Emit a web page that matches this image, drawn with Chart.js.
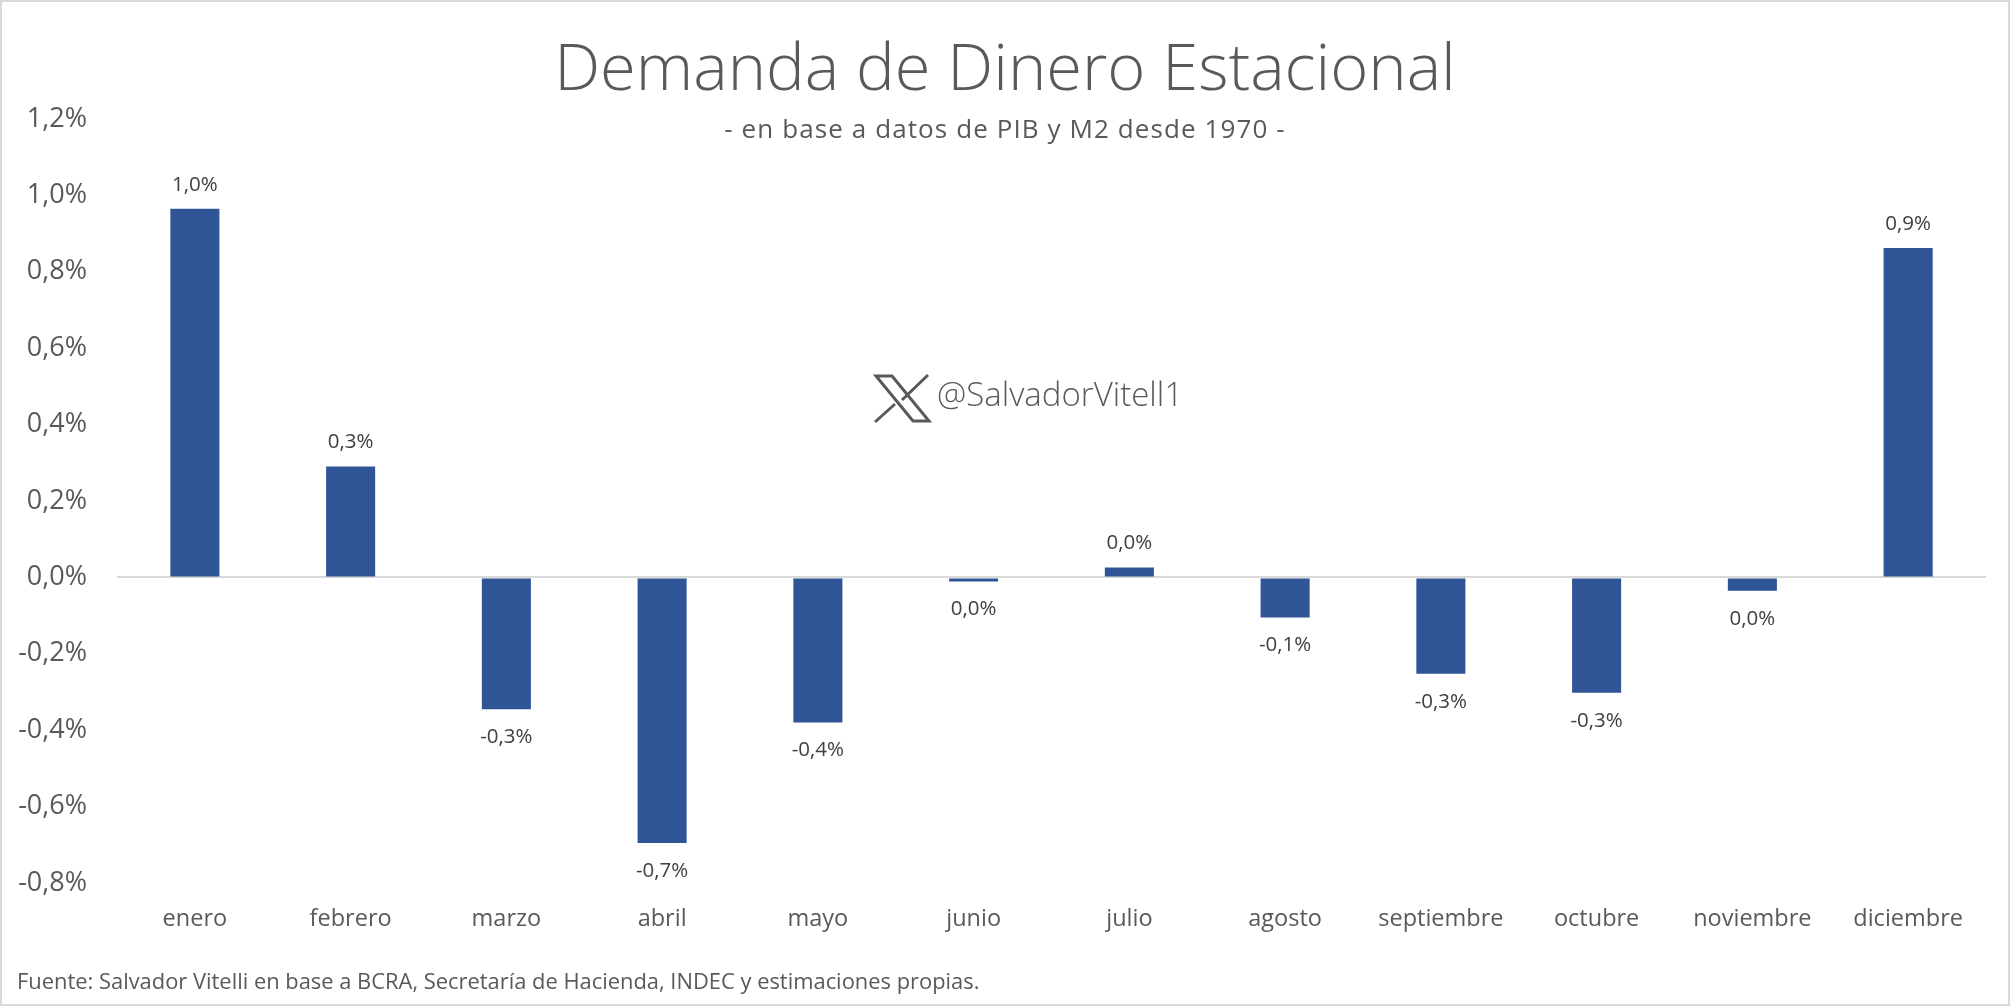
<!DOCTYPE html>
<html>
<head>
<meta charset="utf-8">
<script src="https://cdn.jsdelivr.net/npm/chart.js@4/dist/chart.umd.min.js"></script>
<style>
  html, body { margin: 0; padding: 0; background: #fff; }
  #wrap { position: relative; width: 2010px; height: 1006px; }
</style>
</head>
<body>
<div id="wrap"><canvas id="myChart" width="2010" height="1006"></canvas></div>
<script>
// Datos
const months = ['enero', 'febrero', 'marzo', 'abril', 'mayo', 'junio', 'julio', 'agosto', 'septiembre', 'octubre', 'noviembre', 'diciembre'];
const demand = [0.965, 0.29, -0.345, -0.695, -0.38, -0.011, 0.026, -0.105, -0.252, -0.302, -0.035, 0.862];
const barLabels = ['1,0%', '0,3%', '-0,3%', '-0,7%', '-0,4%', '0,0%', '0,0%', '-0,1%', '-0,3%', '-0,3%', '0,0%', '0,9%'];

const titleText = 'Demanda de Dinero Estacional';
const subtitleText = '- en base a datos de PIB y M2 desde 1970 -';
const handleText = '@SalvadorVitell1';
const sourceText = 'Fuente: Salvador Vitelli en base a BCRA, Secretaría de Hacienda, INDEC y estimaciones propias.';

const fontName = '"Open Sans", "Noto Sans", sans-serif';
const textGrey = '#595959';

// Titulos, etiquetas, logo y marco
const extras = {
  id: 'extras',
  afterDatasetsDraw(chart) {
    const ctx = chart.ctx;
    const bars = chart.getDatasetMeta(0).data;

    ctx.save();
    ctx.textBaseline = 'middle';

    // Etiquetas de las barras
    ctx.textAlign = 'center';
    ctx.fillStyle = '#404040';
    ctx.font = '20.5px ' + fontName;
    bars.forEach((bar, i) => {
      const offset = demand[i] >= 0 ? -24 : 28;
      ctx.fillText(barLabels[i], bar.x, bar.y + offset);
    });

    // Titulo
    ctx.fillStyle = textGrey;
    ctx.font = '300 65px ' + fontName;
    ctx.fillText(titleText, 1005, 71);

    ctx.font = '26px ' + fontName;
    ctx.letterSpacing = '1.1px';
    ctx.fillText(subtitleText, 1005, 131);
    ctx.letterSpacing = '0px';

    // Cuenta
    ctx.textAlign = 'left';
    ctx.font = '300 33px ' + fontName;
    ctx.fillText(handleText, 937, 397);

    // Fuente
    ctx.font = '21.9px ' + fontName;
    ctx.fillStyle = textGrey;
    ctx.fillText(sourceText, 17, 983);

    // Logo X
    ctx.strokeStyle = textGrey;
    ctx.lineWidth = 3;
    ctx.beginPath();
    ctx.moveTo(876, 376);
    ctx.lineTo(892, 376);
    ctx.lineTo(929, 421);
    ctx.lineTo(913, 421);
    ctx.closePath();
    ctx.moveTo(928, 375);
    ctx.lineTo(902, 400);
    ctx.moveTo(895, 404);
    ctx.lineTo(875, 422);
    ctx.stroke();

    // Marco
    ctx.strokeStyle = '#d9d9d9';
    ctx.lineWidth = 3;
    ctx.strokeRect(0.5, 0.5, 2009, 1005);
    ctx.restore();
  }
};

new Chart(document.getElementById('myChart').getContext('2d'), {
  type: 'bar',
  data: {
    labels: months,
    datasets: [{
      data: demand,
      backgroundColor: '#2F5597',
      categoryPercentage: 1,
      barPercentage: 0.315
    }]
  },
  options: {
    responsive: false,
    animation: false,
    layout: { padding: { top: 119, right: 24, bottom: 0, left: 0 } },
    plugins: {
      legend: { display: false },
      tooltip: { enabled: false }
    },
    scales: {
      x: {
        grid: { display: false },
        border: { display: false },
        afterFit(scale) { scale.height = 123; },
        ticks: {
          color: textGrey,
          font: { family: fontName, size: 23.5 },
          maxRotation: 0,
          autoSkip: false,
          padding: 14
        }
      },
      y: {
        min: -0.8,
        max: 1.2,
        border: { display: false },
        afterFit(scale) { scale.width = 117; },
        grid: {
          drawTicks: false,
          lineWidth: 2,
          color: c => Math.abs(c.tick.value) < 1e-6 ? '#d9d9d9' : 'transparent'
        },
        ticks: {
          stepSize: 0.2,
          color: textGrey,
          padding: 30,
          font: { family: fontName, size: 27 },
          callback: v => v.toFixed(1).replace('.', ',') + '%'
        }
      }
    }
  },
  plugins: [extras]
});
</script>
</body>
</html>
